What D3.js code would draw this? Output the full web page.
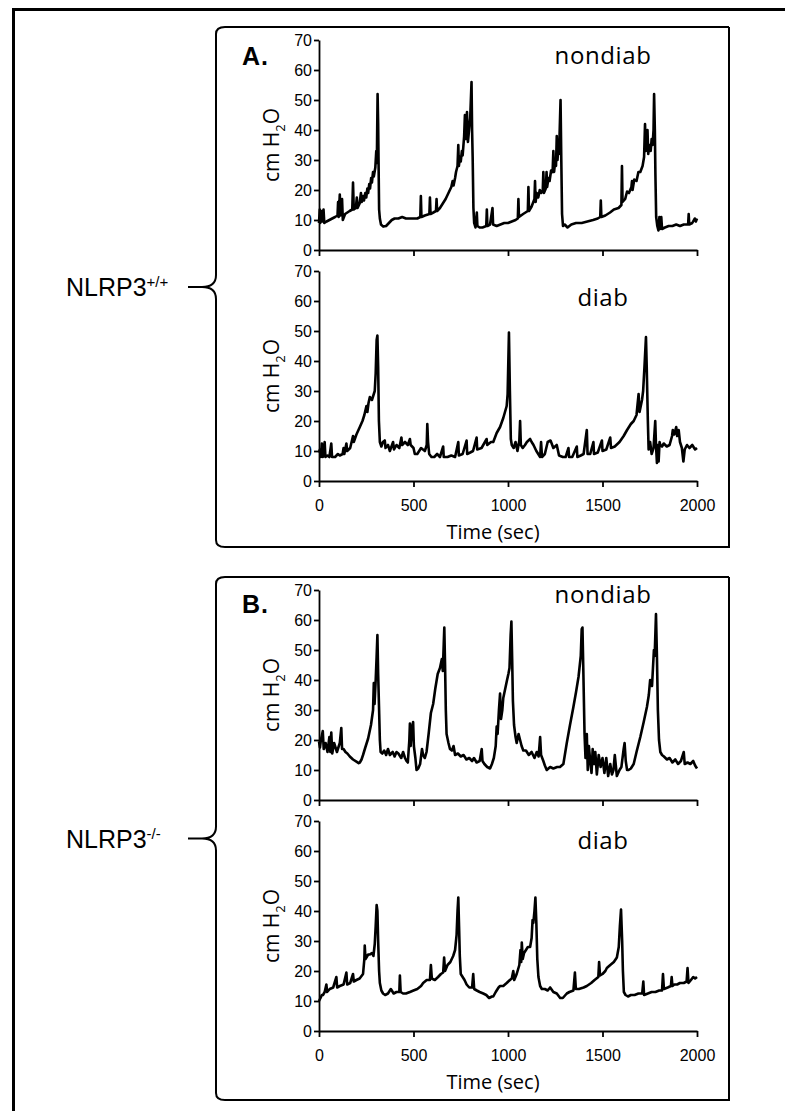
<!DOCTYPE html>
<html>
<head>
<meta charset="utf-8">
<script src="https://cdn.jsdelivr.net/npm/d3@7"></script>
<style>
  body { margin: 0; background: #fff; }
  .axis path, .axis line { stroke: #000; stroke-width: 1.8px; }
  .axis text { font-family: "Liberation Sans", Arial, sans-serif; font-size: 16px; fill: #000; }
  .trace { fill: none; stroke: #000; stroke-width: 2.6px; stroke-linejoin: round; }
</style>
</head>
<body>
<div id="chart"></div>
<script>
// Tick values shared by every plot
const timeTicks = [0, 500, 1000, 1500, 2000];
const pressureTicks = [0, 10, 20, 30, 40, 50, 60, 70];

// Panel letters, genotype labels and condition labels
const panelLetters = ['A.', 'B.'];
const genotypes = [['NLRP3', '+/+'], ['NLRP3', '-/-']];
const conditions = ['nondiab', 'diab', 'nondiab', 'diab'];

// Bladder pressure traces, [time (sec), cm H2O]
const aNondiab = [[0,9],[4,13.5],[7,9],[13,13],[17,9.5],[24,13.5],[28,9],[40,9.5],[55,10],[70,10.5],[85,11],[98,11.5],[101,16],[104,11],[110,18.5],[114,11.5],[122,17],[126,10],[138,12],[150,12.5],[162,13],[176,13.5],[180,22.5],[184,13.5],[195,14],[200,17.5],[204,14],[215,15.5],[222,19],[226,16],[233,18],[238,16.5],[245,19],[250,17.5],[256,20.5],[260,19],[266,22],[270,20.5],[276,24],[280,22.5],[286,26],[290,24.5],[298,27.5],[303,33],[306,29],[310,52],[313,42],[315,30],[318,13.5],[322,10.5],[328,8.5],[340,7.8],[355,8],[370,9],[385,10],[400,10.5],[420,10.5],[440,11],[460,10.5],[480,10.5],[500,10.5],[520,10.5],[536,11],[539,18],[542,11],[560,11.5],[584,12],[587,17.5],[590,12],[605,12.5],[619,13],[622,17],[625,13],[640,14],[655,15.5],[670,17],[685,19],[700,21],[707,23],[712,21.5],[720,24],[725,26],[733,28],[737,35],[740,28],[746,31],[750,29.5],[756,33],[760,31.5],[768,38],[772,45],[776,37],[783,46],[788,36],[794,40],[800,44],[807,56],[810,40],[813,31],[817,14],[821,9],[828,7.5],[835,12.5],[838,8],[850,7.5],[865,7.5],[885,8],[888,13.5],[891,8],[905,8.5],[918,14],[921,8.5],[940,8],[960,8.5],[980,9],[1000,9],[1020,9.5],[1040,10],[1052,10.5],[1055,17],[1058,11],[1080,12],[1105,13],[1108,21],[1111,13],[1125,14.5],[1140,17],[1143,23],[1146,16],[1152,19],[1160,17.5],[1168,20],[1175,19],[1184,20],[1187,26],[1190,19],[1200,20.5],[1204,26],[1207,21],[1214,24],[1220,23],[1228,26.5],[1236,26],[1240,33],[1244,26],[1250,30],[1254,28],[1258,38],[1262,30],[1266,34],[1270,32],[1278,50],[1282,30],[1286,12],[1291,8],[1300,8.5],[1315,7.5],[1335,8.5],[1360,9],[1390,9],[1420,9.5],[1450,10],[1475,10.5],[1488,11],[1491,16.5],[1494,11],[1515,11.5],[1540,12.5],[1560,13.5],[1585,14],[1600,15],[1603,28],[1606,16],[1620,17],[1630,19.5],[1640,19],[1653,21],[1656,23],[1659,20],[1668,23.5],[1680,23],[1690,26],[1700,26],[1712,28],[1720,31],[1725,42],[1729,33],[1738,40],[1742,32],[1748,35],[1755,33],[1760,37],[1765,35],[1770,40],[1773,52],[1777,40],[1780,25],[1784,11],[1790,8],[1796,6.5],[1801,11],[1805,7],[1811,11],[1815,7],[1830,7.5],[1850,8],[1870,8],[1890,8.5],[1910,8],[1930,8.5],[1953,8.5],[1956,12],[1959,8.5],[1975,9],[1988,10.5],[1994,9.5],[2000,10.5]];

const aDiab = [[0,9.5],[5,10.5],[10,8],[15,12.5],[20,8],[30,13],[34,8],[45,8.5],[55,8],[65,12.5],[69,8],[85,8],[100,9],[110,8.5],[125,9],[130,11],[134,9],[145,12.5],[149,10],[165,11],[180,15],[184,13],[198,15.5],[216,18],[230,20],[240,22],[251,25],[256,23],[262,26],[269,28],[280,27],[290,29],[295,30],[300,36],[305,47],[309,48.5],[313,38],[317,20],[322,13],[330,11.5],[338,13],[348,13.5],[352,11],[365,12],[375,10],[392,13],[397,10.5],[410,12],[425,11],[436,14.5],[440,12],[455,13],[470,12],[481,14],[485,12],[500,11],[507,9],[520,9],[540,11],[560,10],[570,12],[573,19],[577,13],[583,9],[595,8],[610,8],[625,9],[640,8],[657,11.5],[660,8],[680,8],[700,8.5],[720,8],[737,13],[740,8.5],[760,9],[781,13.5],[784,9],[800,9.5],[815,10],[834,14.5],[837,10.5],[860,11],[887,14],[890,12],[910,13],[922,13],[940,16],[958,18],[975,21],[993,25],[998,29],[1005,49.5],[1010,30],[1015,14],[1020,12],[1030,11],[1040,13],[1050,10],[1060,13.5],[1064,20],[1068,12],[1078,11],[1090,12],[1100,13],[1117,14],[1125,13],[1135,12],[1150,10],[1170,8],[1175,13],[1180,8],[1195,9],[1210,13],[1225,13.5],[1240,11],[1258,12],[1270,8.5],[1290,8],[1305,8],[1320,11],[1323,8],[1340,8],[1364,11.5],[1367,8],[1385,8.5],[1400,9],[1417,17],[1421,9],[1435,9],[1452,13],[1455,9],[1475,9.5],[1497,13.5],[1500,10],[1520,10.5],[1541,14.5],[1545,11],[1565,11.5],[1590,13],[1612,15],[1630,17],[1650,19],[1665,20],[1680,22],[1691,29],[1696,23],[1709,27],[1715,30],[1722,38],[1730,48],[1734,38],[1740,20],[1744,10.5],[1752,13],[1760,9],[1770,11],[1779,20],[1783,12],[1788,6],[1792,12],[1797,6.5],[1802,13],[1806,12],[1815,11.5],[1824,12.5],[1840,11.5],[1855,12],[1868,15],[1872,17],[1880,15.5],[1890,18],[1895,15],[1903,17],[1910,13],[1920,11],[1928,6.5],[1935,10.5],[1947,12],[1960,11],[1975,12],[1990,10.5],[2000,11]];

const bNondiab = [[0,19.5],[5,17.5],[10,20],[20,23],[25,17],[35,19],[45,16],[55,21],[60,16],[65,22.5],[70,15.5],[80,19],[95,16],[110,19],[118,24],[122,17],[130,17],[140,16],[150,15.5],[163,14.5],[180,13.5],[198,12.8],[210,12.3],[216,12.5],[225,13.5],[233,15],[245,17.5],[260,20.5],[275,25],[286,30],[290,39],[294,32],[300,40],[305,48],[309,55],[313,42],[318,30],[322,20],[326,16],[335,15.5],[345,16.5],[355,15],[365,17],[375,15],[390,16],[400,14.5],[410,16],[420,15.5],[435,14],[445,16],[455,14],[463,13],[470,12.5],[478,20],[481,25.5],[485,18],[492,24],[498,26],[502,18],[510,14],[516,10],[525,10.5],[535,12],[545,17],[551,15],[560,14],[569,16],[580,22],[592,29],[604,32],[615,37],[628,42],[640,44],[650,47],[655,43],[660,52],[663,57.5],[667,45],[671,30],[675,22],[685,19],[693,17],[703,16.5],[712,18],[720,15],[735,15.5],[750,14.5],[765,15],[780,13.5],[795,14],[810,13],[820,14],[834,12.5],[850,13],[861,17],[865,13],[875,12],[890,11],[905,10.5],[915,12],[925,14],[935,18],[940,24.5],[945,22],[952,30],[958,35.5],[963,27],[970,30],[975,34],[985,37],[995,40],[1002,42],[1008,44],[1014,55],[1018,59.5],[1022,47],[1026,33],[1032,25],[1040,21],[1046,19],[1056,22],[1064,20],[1072,18],[1081,16.5],[1095,16.5],[1110,15],[1125,16],[1140,14],[1152,16],[1162,14.5],[1170,21],[1175,15],[1187,13],[1195,11.5],[1205,10],[1223,11],[1240,10.5],[1260,11],[1275,11],[1293,12],[1311,19],[1328,25],[1346,31],[1360,36],[1373,41],[1385,48],[1390,57],[1394,57.5],[1398,45],[1405,22],[1410,14],[1417,22],[1422,10],[1428,18],[1435,13],[1442,9],[1448,17],[1455,12],[1462,16],[1470,8.5],[1480,15],[1490,11],[1500,14],[1510,9],[1520,14],[1530,8],[1541,12],[1550,8.5],[1558,10],[1565,15],[1576,8],[1590,10],[1600,11],[1612,17],[1617,19],[1623,13],[1630,10],[1638,10],[1650,10.5],[1665,12],[1680,16],[1700,21],[1718,26],[1735,31],[1745,35],[1752,40],[1762,38],[1767,44],[1772,50],[1776,48],[1783,62],[1788,48],[1793,30],[1799,20],[1806,16],[1815,15],[1825,14.5],[1841,13.5],[1855,14],[1870,12.5],[1885,13.5],[1900,12],[1915,13],[1930,16],[1935,12],[1950,12.5],[1965,12],[1980,13],[1990,11.5],[2000,10.5]];

const bDiab = [[0,10],[8,11],[15,12],[21,12],[30,13],[39,15.5],[43,13],[57,14],[75,14.5],[92,18],[96,14.5],[110,15],[130,15.5],[145,19.5],[149,15.5],[165,16],[180,19],[184,16.5],[198,17],[215,17.5],[233,19],[240,24],[242,28.5],[246,24],[251,24.5],[260,25.5],[269,25.5],[280,26],[288,25],[295,29],[300,35],[305,42],[309,40],[313,30],[318,20],[322,16],[330,13.5],[339,12.5],[350,12],[365,12.5],[380,14],[395,12.5],[410,13],[425,13],[428,18.5],[432,13],[445,12.5],[460,12.5],[481,13],[500,13.5],[520,14],[540,15],[551,16],[570,17],[587,17],[592,22],[597,17.5],[613,17],[630,18],[645,19],[657,19.5],[662,24.5],[667,20],[680,22],[695,23],[710,25],[720,27],[728,32],[733,40],[737,44.5],[741,35],[745,25],[750,19],[760,18],[770,17],[781,15.5],[795,14.5],[810,14.5],[816,19],[821,14],[835,13.5],[850,13],[869,12.5],[885,12],[900,11],[915,11.5],[922,11.5],[935,13],[950,14.5],[958,15],[975,15],[993,16],[1010,17],[1020,17.5],[1028,20],[1033,17],[1046,19],[1060,22],[1066,27],[1070,23],[1073,29.5],[1078,24],[1085,26],[1095,27],[1105,28],[1117,28],[1125,31],[1130,37],[1134,36],[1140,40],[1145,44.5],[1150,36],[1155,24],[1161,18],[1170,15],[1179,14],[1195,14],[1210,13.5],[1223,14.5],[1240,13],[1258,12.5],[1276,11],[1290,11],[1311,12.5],[1325,13],[1346,13.5],[1354,19.5],[1359,14],[1375,14],[1400,14.5],[1417,15],[1440,16],[1458,17],[1478,18],[1482,23],[1487,18.5],[1500,19],[1515,20],[1523,21],[1541,22],[1560,23],[1576,24.5],[1586,28],[1592,35],[1598,40.5],[1604,30],[1608,20],[1613,13],[1622,12],[1635,11.5],[1650,12],[1670,12],[1690,12.5],[1710,12.5],[1716,16.5],[1720,12],[1740,12.5],[1760,13],[1780,13],[1800,13.5],[1815,13.5],[1820,19],[1825,14],[1845,14.5],[1862,15],[1866,18],[1870,15],[1880,15.5],[1895,15.5],[1910,16],[1930,16],[1945,16.5],[1950,21],[1955,16],[1968,17],[1980,18],[1990,17.5],[2000,18]];

const traces = [aNondiab, aDiab, bNondiab, bDiab];

let w = 785,
  h = 1111,
  plotBottoms = [250, 481, 800, 1031], // y of the 0 line for each plot
  plotH = 210,
  panelTops = [27, 577],
  panelBottoms = [547, 1100],
  panelLeft = 216,
  panelRight = 729,
  labelOffsets = [24, 35, 13, 28], // condition label baseline below the 70 line

  svg = d3.select('#chart').
  append('svg').
  attr('width', w).
  attr('height', h),

  x = d3.scaleLinear().
  domain([0, 2000]).
  range([319, 697]),

  line = d3.line().
  x(d => x(d[0]));

// Outer frame (runs off the right and bottom of the picture)
svg.append('path').
attr('d', 'M13.5,' + (h + 10) + 'V9.5H' + (w + 10)).
attr('fill', 'none').
attr('stroke', '#000').
attr('stroke-width', 3);

// Panel boxes, with a curly brace on their left side
panelTops.forEach((top, i) => {
  let bottom = panelBottoms[i],
    mid = (top + bottom) / 2;

  svg.append('path').
  attr('d',
  'M' + panelRight + ',' + top +
  'H' + (panelLeft + 9) +
  'Q' + panelLeft + ',' + top + ' ' + panelLeft + ',' + (top + 7) +
  'V' + (mid - 12) +
  'Q' + panelLeft + ',' + mid + ' ' + (panelLeft - 14) + ',' + mid +
  'H' + (panelLeft - 28) +
  'M' + (panelLeft - 14) + ',' + mid +
  'Q' + panelLeft + ',' + mid + ' ' + panelLeft + ',' + (mid + 12) +
  'V' + (bottom - 7) +
  'Q' + panelLeft + ',' + bottom + ' ' + (panelLeft + 9) + ',' + bottom +
  'H' + panelRight +
  'V' + top).
  attr('fill', 'none').
  attr('stroke', '#000').
  attr('stroke-width', 2);

  // Genotype label next to the brace
  let lab = svg.append('text').
  attr('x', 66).
  attr('y', mid + 9).
  style('font-family', '"Liberation Sans", Arial, sans-serif').
  style('font-size', '25px').
  text(genotypes[i][0]);

  lab.append('tspan').
  attr('dy', -9).
  style('font-size', '15px').
  text(genotypes[i][1]);

  // Panel letter
  svg.append('text').
  attr('x', 242).
  attr('y', top + (i === 0 ? 38 : 36)).
  style('font-family', '"Liberation Sans", Arial, sans-serif').
  style('font-size', '25px').
  style('font-weight', 'bold').
  style('letter-spacing', '1px').
  text(panelLetters[i]);
});

// The four pressure plots
traces.forEach((data, i) => {
  let y0 = plotBottoms[i],
    y = d3.scaleLinear().
    domain([0, 70]).
    range([y0, y0 - plotH]),
    g = svg.append('g'),
    showTime = i % 2 === 1;

  g.append('g').
  attr('class', 'axis').
  attr('transform', 'translate(0,' + y0 + ')').
  call(d3.axisBottom(x).
  tickValues(timeTicks).
  tickSize(6).
  tickSizeOuter(0).
  tickPadding(13).
  tickFormat(showTime ? d3.format('d') : () => ''));

  g.append('g').
  attr('class', 'axis').
  attr('transform', 'translate(319,0)').
  call(d3.axisLeft(y).
  tickValues(pressureTicks).
  tickSize(5).
  tickSizeOuter(0).
  tickPadding(2));

  g.append('path').
  datum(data).
  attr('class', 'trace').
  attr('d', line.y(d => y(d[1])));

  // Condition label
  g.append('text').
  attr('x', 603).
  attr('y', y(70) + labelOffsets[i]).
  attr('text-anchor', 'middle').
  style('font-family', '"Open Sans", sans-serif').
  style('font-size', '24px').
  style('letter-spacing', '0.6px').
  text(conditions[i]);

  // Y axis title: cm H2O
  let yt = g.append('text').
  attr('transform', 'translate(279,' + (y0 - plotH / 2) + ') rotate(-90)').
  attr('text-anchor', 'middle').
  style('font-family', '"Open Sans", sans-serif').
  style('font-size', '21px').
  text('cm H');
  yt.append('tspan').attr('dy', 6).style('font-size', '13px').text('2');
  yt.append('tspan').attr('dy', -6).text('O');

  if (showTime) {
    g.append('text').
    attr('x', 493).
    attr('y', y0 + 58).
    attr('text-anchor', 'middle').
    style('font-family', '"Open Sans", sans-serif').
    style('font-size', '20px').
    text('Time (sec)');
  }
});
</script>
</body>
</html>
